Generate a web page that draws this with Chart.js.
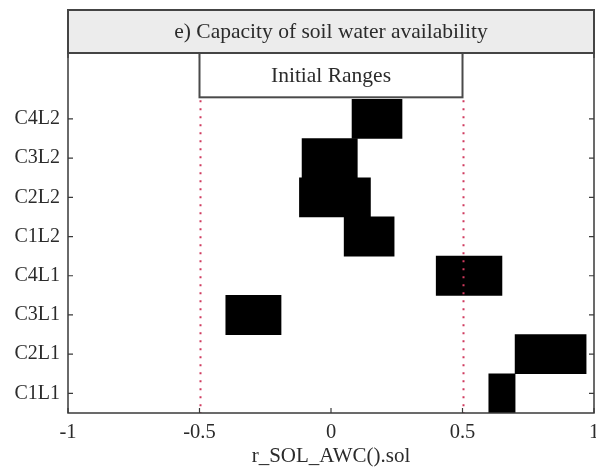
<!DOCTYPE html>
<html>
<head>
<meta charset="utf-8">
<script src="https://cdn.jsdelivr.net/npm/chart.js@4"></script>
<style>
  html, body { margin: 0; padding: 0; background: #fff; }
  #wrap { width: 596px; height: 474px; }
</style>
</head>
<body>
<div id="wrap"><canvas id="c" width="596" height="474"></canvas></div>
<script>
// Categories listed from bottom to top of the y axis
const categories = ['C1L1', 'C2L1', 'C3L1', 'C4L1', 'C1L2', 'C2L2', 'C3L2', 'C4L2'];
// Low / high end of each range, same order as categories
const rangeLow  = [0.60, 0.70, -0.40, 0.40, 0.05, -0.12, -0.11, 0.08];
const rangeHigh = [0.70, 0.97, -0.19, 0.65, 0.24,  0.15,  0.10, 0.27];
// Initial range limits (dotted guides)
const initialRange = [-0.5, 0.5];
const xTicks = [-1, -0.5, 0, 0.5, 1];
const yTickValues = categories.map((_, i) => i + 1);

const chartTitle = 'e) Capacity of soil water availability';
const boxLabel = 'Initial Ranges';
const xTitle = 'r_SOL_AWC().sol';

const SERIF = '"Liberation Serif", "DejaVu Serif", serif';
const TEXT = '#2b2b2b';
const AXIS = '#3a3a3a';

const points = categories.map((c, i) => ({ y: i + 1, x: [rangeLow[i], rangeHigh[i]] }));

const decorations = {
  id: 'decorations',
  afterDatasetsDraw(chart) {
    const { ctx, chartArea: a, scales: { x, y } } = chart;
    const boxBottom = y.getPixelForValue(8.55);
    // red dotted guides at the initial range limits
    ctx.save();
    ctx.strokeStyle = '#cf3a5e';
    ctx.lineWidth = 2;
    ctx.setLineDash([2, 6]);
    initialRange.forEach(v => {
      const px = Math.round(x.getPixelForValue(v)) + 0.5;
      ctx.beginPath();
      ctx.moveTo(px, boxBottom + 3);
      ctx.lineTo(px, a.bottom);
      ctx.stroke();
    });
    ctx.restore();
  },
  afterDraw(chart) {
    const { ctx, chartArea: a, scales: { x, y } } = chart;
    ctx.save();
    // plot frame
    ctx.strokeStyle = AXIS;
    ctx.lineWidth = 1.5;
    ctx.strokeRect(a.left, a.top, a.right - a.left, a.bottom - a.top);
    // inward tick marks
    ctx.lineWidth = 1.2;
    xTicks.forEach(v => {
      const px = x.getPixelForValue(v);
      ctx.beginPath();
      ctx.moveTo(px, a.bottom); ctx.lineTo(px, a.bottom - 5);
      ctx.moveTo(px, a.top); ctx.lineTo(px, a.top + 5);
      ctx.stroke();
    });
    yTickValues.forEach(v => {
      const py = y.getPixelForValue(v);
      ctx.beginPath();
      ctx.moveTo(a.left, py); ctx.lineTo(a.left + 5, py);
      ctx.moveTo(a.right, py); ctx.lineTo(a.right - 5, py);
      ctx.stroke();
    });
    // "Initial Ranges" box spanning the initial range
    const bx0 = x.getPixelForValue(initialRange[0]);
    const bx1 = x.getPixelForValue(initialRange[1]);
    const by1 = y.getPixelForValue(8.55);
    ctx.fillStyle = '#ffffff';
    ctx.fillRect(bx0, a.top, bx1 - bx0, by1 - a.top);
    ctx.strokeStyle = '#4a4a4a';
    ctx.lineWidth = 2;
    ctx.strokeRect(bx0, a.top, bx1 - bx0, by1 - a.top);
    ctx.fillStyle = TEXT;
    ctx.font = '21.5px ' + SERIF;
    ctx.textAlign = 'center';
    ctx.textBaseline = 'middle';
    ctx.fillText(boxLabel, (bx0 + bx1) / 2, (a.top + by1) / 2 + 1);
    // title strip above the plot
    const ty0 = 10;
    ctx.fillStyle = '#ececec';
    ctx.fillRect(a.left, ty0, a.right - a.left, a.top - ty0);
    ctx.strokeStyle = '#444';
    ctx.lineWidth = 2;
    ctx.strokeRect(a.left, ty0, a.right - a.left, a.top - ty0);
    ctx.fillStyle = TEXT;
    ctx.fillText(chartTitle, (a.left + a.right) / 2, (ty0 + a.top) / 2 + 1);
    ctx.restore();
  }
};

new Chart(document.getElementById('c'), {
  type: 'bar',
  data: {
    datasets: [{
      data: points,
      backgroundColor: '#000000',
      borderWidth: 0,
      barPercentage: 1,
      categoryPercentage: 1
    }]
  },
  options: {
    indexAxis: 'y',
    responsive: false,
    animation: false,
    events: [],
    layout: { padding: { top: 53, right: 2, left: 0, bottom: 0 } },
    plugins: { legend: { display: false }, tooltip: { enabled: false }, title: { display: false } },
    scales: {
      x: {
        type: 'linear',
        min: -1, max: 1,
        offset: false,
        afterBuildTicks: s => { s.ticks = xTicks.map(v => ({ value: v })); },
        afterFit: s => { s.height = 61; s.paddingLeft = 0; s.paddingRight = 0; },
        grid: { display: false, drawTicks: false },
        border: { display: false },
        ticks: {
          padding: 7,
          color: TEXT,
          font: { family: SERIF, size: 20.5 },
          callback: v => String(v)
        },
        title: {
          display: true,
          text: xTitle,
          color: TEXT,
          font: { family: SERIF, size: 21 },
          padding: { top: 0, bottom: 5 }
        }
      },
      y: {
        type: 'linear',
        min: 0.5, max: 9.68,
        offset: false,
        afterBuildTicks: s => { s.ticks = yTickValues.map(v => ({ value: v })); },
        afterFit: s => { s.width = 68; s.paddingTop = 0; s.paddingBottom = 0; },
        grid: { display: false, drawTicks: false },
        border: { display: false },
        ticks: {
          padding: 8,
          color: TEXT,
          font: { family: SERIF, size: 20 },
          callback: v => categories[Math.round(v) - 1] || ''
        }
      }
    }
  },
  plugins: [decorations]
});
</script>
</body>
</html>
